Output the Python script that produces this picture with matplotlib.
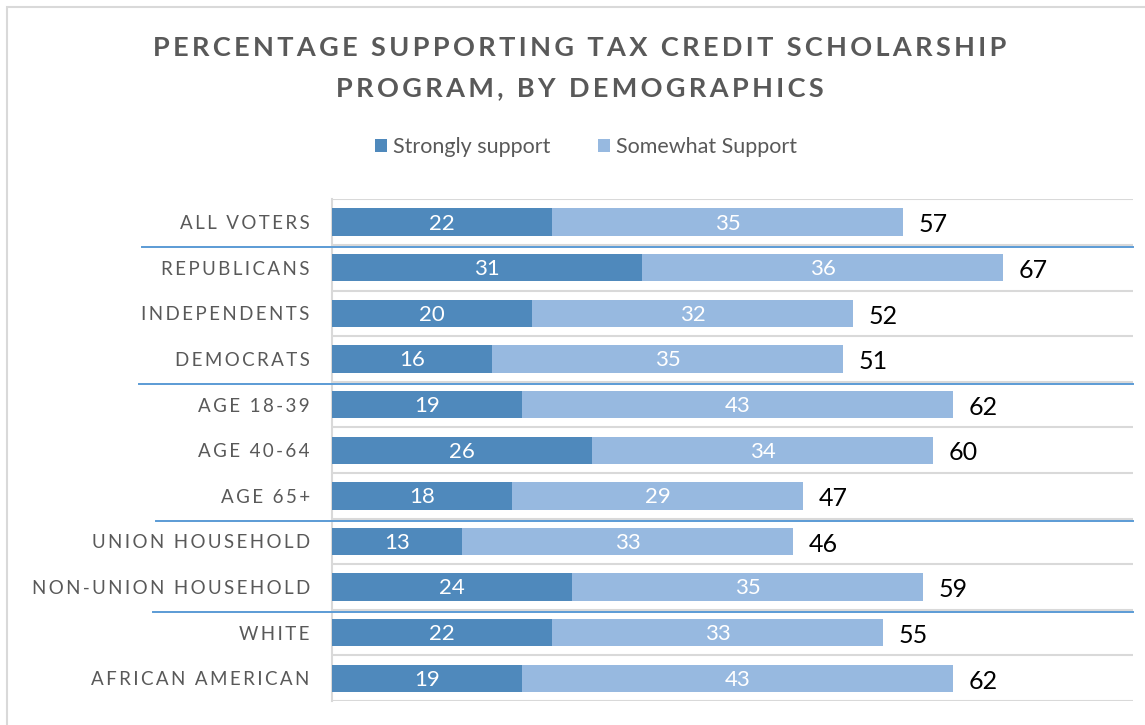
import matplotlib.pyplot as plt
from matplotlib.patches import Rectangle

# Survey results (percent)
categories = ["ALL VOTERS", "REPUBLICANS", "INDEPENDENTS", "DEMOCRATS",
              "AGE 18-39", "AGE 40-64", "AGE 65+", "UNION HOUSEHOLD",
              "NON-UNION HOUSEHOLD", "WHITE", "AFRICAN AMERICAN"]
strongly = [22, 31, 20, 16, 19, 26, 18, 13, 24, 22, 19]
somewhat = [35, 36, 32, 35, 43, 34, 29, 33, 35, 33, 43]
totals = [57, 67, 52, 51, 62, 60, 47, 46, 59, 55, 62]
# group separators sit below these rows, with their left start (data units)
separators = [(0, -19.0), (3, -19.3), (6, -17.6), (8, -17.9)]

dark = "#4F89BC"
light = "#97B9E0"
grey_text = "#595959"
grid_col = "#D9D9D9"


def spaced(s, sep="\u2009"):
    # fake letter spacing with thin spaces
    return sep.join(s)


plt.rcParams["font.family"] = ["Lato", "DejaVu Sans"]

fig = plt.figure(figsize=(11.45, 7.25), dpi=100)
ax = fig.add_axes([0.29, 0.033, 0.6995, 0.692])

y = list(range(len(categories)))
ax.barh(y, strongly, height=0.6, color=dark, label="Strongly support", zorder=3)
ax.barh(y, somewhat, left=strongly, height=0.6, color=light,
        label="Somewhat Support", zorder=3)

for i in y:
    ax.text(strongly[i] / 2, i + 0.03, str(strongly[i]), ha="center", va="center",
            color="white", fontsize=16, zorder=4)
    ax.text(strongly[i] + somewhat[i] / 2, i + 0.03, str(somewhat[i]), ha="center",
            va="center", color="white", fontsize=16, zorder=4)
    ax.text(totals[i] + 1.6, i + 0.06, str(totals[i]), ha="left", va="center",
            color="black", fontsize=18, zorder=4)

ax.set_xlim(0, 80)
ax.set_ylim(len(categories) - 0.5, -0.5)
ax.set_xticks([])
ax.set_yticks(y)
ax.set_yticklabels([spaced(c) for c in categories], fontsize=13.5, color=grey_text)
ax.tick_params(axis="y", length=0, pad=16)

# category boundary gridlines
for b in [i - 0.5 for i in range(len(categories) + 1)]:
    ax.axhline(b, color=grid_col, lw=1.5, zorder=1)
for side in ["top", "right", "bottom"]:
    ax.spines[side].set_visible(False)
ax.spines["left"].set_color(grid_col)
ax.spines["left"].set_linewidth(1.5)

# blue group separators reaching into the label area
for row, x0 in separators:
    ax.plot([x0, 80], [row + 0.55, row + 0.55], color="#5B9BD5", lw=1.4,
            clip_on=False, zorder=5)

fig.text(0.506, 0.934, spaced("PERCENTAGE SUPPORTING TAX CREDIT SCHOLARSHIP"),
         ha="center", va="center", fontsize=19.5, fontweight="bold", color=grey_text)
fig.text(0.506, 0.879, spaced("PROGRAM, BY DEMOGRAPHICS"),
         ha="center", va="center", fontsize=19.5, fontweight="bold", color=grey_text)

fig.legend(loc="center", bbox_to_anchor=(0.512, 0.797), ncol=2, frameon=False,
           fontsize=15.5, labelcolor=grey_text, handlelength=0.55, handleheight=0.55,
           handletextpad=0.3, columnspacing=2.2)

# chart area border
fig.patches.append(Rectangle((7 / 1145, -0.01), 1.02, 1 - 7 / 725 + 0.01,
                             transform=fig.transFigure, fill=False,
                             edgecolor=grid_col, lw=1.5))

fig.savefig("out.png", dpi=100)
